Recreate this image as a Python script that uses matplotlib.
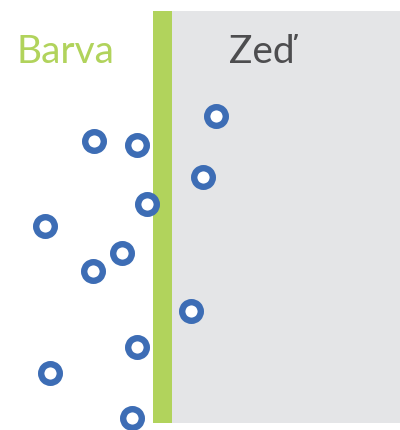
"""Schematic: particles of paint (Barva) next to a wall (Zeď)."""

import matplotlib
matplotlib.use("Agg")
import matplotlib.pyplot as plt

# Particle positions (picture units, y grows downwards)
particle_x = [216, 94, 137, 203, 147, 45, 122, 93, 191, 137, 50, 132]
particle_y = [117, 142, 146, 178, 205, 227, 254, 272, 312, 348, 374, 419]

# Layer extents (picture units)
paint_layer = (153.3, 171.7)
wall_layer = (171.7, 400)
layer_top, layer_bottom = 12.3, 424.3

labels = ["Barva", "Zeď"]

GREEN = "#b1d35c"
WALL = "#e4e5e7"
BLUE = "#3d6db5"
DARK = "#4d4d4f"

fig = plt.figure(figsize=(4.0, 4.31), dpi=100)
ax = fig.add_axes([0, 0, 1, 1])
ax.set_xlim(0, 400)
ax.set_ylim(431, 0)
ax.axis("off")

ax.fill_between(wall_layer, layer_top, layer_bottom, color=WALL, lw=0, zorder=1)
ax.fill_between(paint_layer, layer_top, layer_bottom, color=GREEN, lw=0, zorder=2)

ax.plot(particle_x, particle_y, "o", ms=13.4, mfc="white", mec=BLUE,
        mew=4.6, zorder=3)

ax.text(16, 63, labels[0], fontsize=28, color=GREEN, family="Lato",
        ha="left", va="baseline")
ax.text(229, 63, labels[1], fontsize=28, color=DARK, family="Lato",
        ha="left", va="baseline")

fig.savefig("out.png", dpi=100)
